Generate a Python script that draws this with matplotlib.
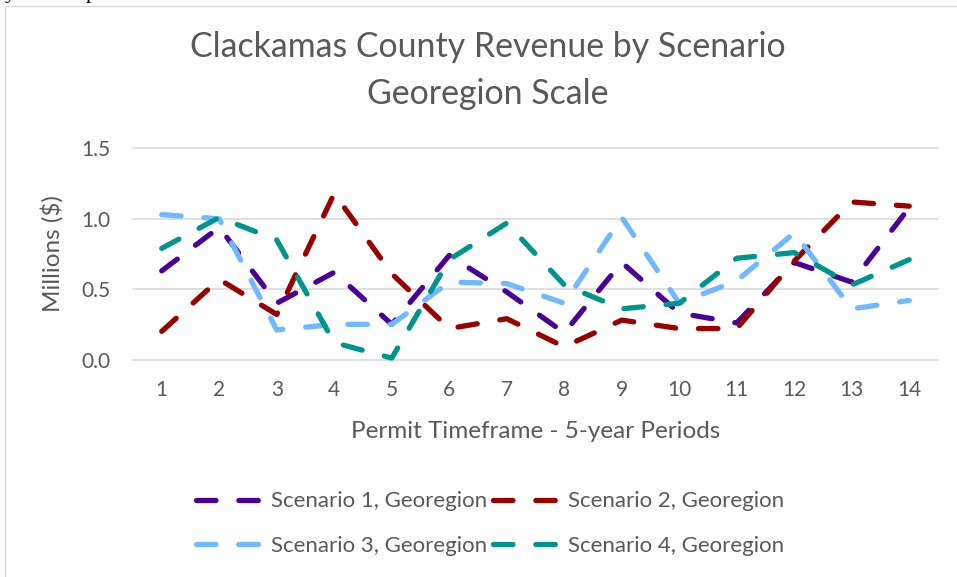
import matplotlib
matplotlib.use("Agg")
import matplotlib.pyplot as plt
from matplotlib.patches import Rectangle

periods = list(range(1, 15))
scenario1 = [0.63, 0.94, 0.40, 0.62, 0.25, 0.74, 0.48, 0.19, 0.69, 0.33, 0.26, 0.69, 0.55, 1.08]
scenario2 = [0.20, 0.57, 0.32, 1.18, 0.61, 0.22, 0.29, 0.09, 0.28, 0.22, 0.22, 0.70, 1.12, 1.09]
scenario3 = [1.03, 1.00, 0.21, 0.25, 0.25, 0.55, 0.54, 0.40, 1.01, 0.40, 0.56, 0.90, 0.36, 0.42]
scenario4 = [0.79, 1.01, 0.85, 0.12, 0.01, 0.71, 0.97, 0.53, 0.36, 0.40, 0.72, 0.76, 0.53, 0.71]
series_names = ["Scenario 1, Georegion", "Scenario 2, Georegion",
                "Scenario 3, Georegion", "Scenario 4, Georegion"]
colors = ["#4b0096", "#990000", "#70b8ff", "#00948c"]
yticks = [0.0, 0.5, 1.0, 1.5]
ytick_labels = ["0.0", "0.5", "1.0", "1.5"]
title_lines = ["Clackamas County Revenue by Scenario", "Georegion Scale"]
xlabel = "Permit Timeframe - 5-year Periods"
ylabel = "Millions ($)"

FONT = ["Lato", "DejaVu Sans"]
TXT = "#595959"
plt.rcParams["font.family"] = FONT
plt.rcParams["lines.scale_dashes"] = False

W, H = 957, 577
fig = plt.figure(figsize=(W / 100, H / 100), dpi=100)
fig.patch.set_facecolor("white")

# outer chart border
fig.add_artist(Rectangle((5 / W, -0.05), 1.2, 1 - 6 / H + 0.05, transform=fig.transFigure,
                         fill=False, edgecolor="#d9d9d9", linewidth=1.0))
# cut-off document text at the very top
fig.text(5 / W, 1 + 2 / H, "y", family=["Liberation Serif"], fontsize=16, color="black",
         va="baseline", ha="left")
fig.text(86 / W, 1 + 2 / H, "p", family=["Liberation Serif"], fontsize=16, color="black",
         va="baseline", ha="left")

left, right, top, bottom = 133, 938, 148.5, 359.5
ax = fig.add_axes([left / W, 1 - bottom / H, (right - left) / W, (bottom - top) / H])
ax.set_xlim(0.5, 14.5)
ax.set_ylim(0, 1.5)
for s in ax.spines.values():
    s.set_visible(False)
ax.set_yticks(yticks)
ax.set_yticklabels(ytick_labels)
ax.set_xticks(periods)
ax.set_xticklabels([str(p) for p in periods])
ax.tick_params(length=0, labelsize=15, labelcolor=TXT)
ax.tick_params(axis="x", pad=15)
ax.tick_params(axis="y", pad=16)
ax.yaxis.grid(True, color="#d9d9d9", linewidth=1.2)
for gl in ax.get_ygridlines():
    gl.set_clip_on(False)
ax.set_axisbelow(True)

data = [scenario1, scenario2, scenario3, scenario4]
lines = []
for vals, c, name in zip(data, colors, series_names):
    ln, = ax.plot(periods, vals, color=c, linewidth=3.8, label=name,
                  dashes=(14, 16.5), dash_capstyle="round", solid_capstyle="round",
                  clip_on=False)
    lines.append(ln)

fig.text(488 / W, 1 - 47 / H, title_lines[0], ha="center", va="center", fontsize=24.4, color=TXT)
fig.text(488 / W, 1 - 94 / H, title_lines[1], ha="center", va="center", fontsize=24.4, color=TXT)
fig.text(536 / W, 1 - 431 / H, xlabel, ha="center", va="center", fontsize=17.5, color=TXT)
fig.text(52 / W, 1 - 254 / H, ylabel, ha="center", va="center", rotation=90, fontsize=17.5, color=TXT)

order = [0, 2, 1, 3]
leg = fig.legend([lines[i] for i in order], [series_names[i] for i in order],
                 ncol=2, loc="center", bbox_to_anchor=(490 / W, 1 - 523.5 / H),
                 frameon=False, fontsize=16, handlelength=2.8, handletextpad=0.6,
                 columnspacing=0.25, labelspacing=1.1, borderpad=0)
for t in leg.get_texts():
    t.set_color(TXT)

fig.savefig("out.png", dpi=100)
